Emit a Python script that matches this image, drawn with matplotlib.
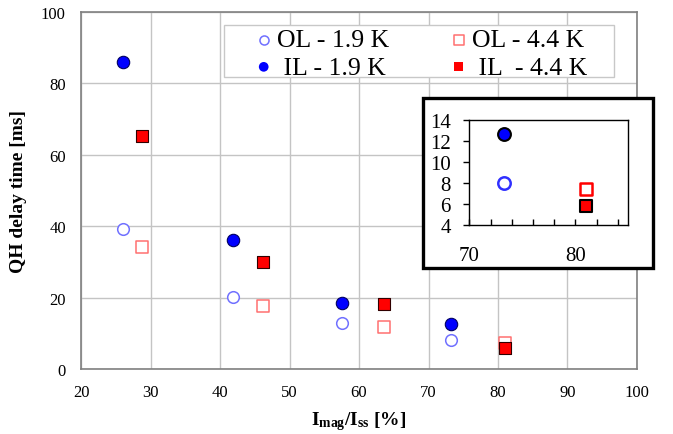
import matplotlib
matplotlib.use("Agg")
import matplotlib.pyplot as plt
from matplotlib.patches import Rectangle

plt.rcParams["font.family"] = ["Liberation Serif", "DejaVu Serif"]
plt.rcParams["mathtext.fontset"] = "custom"
plt.rcParams["mathtext.rm"] = "Liberation Serif"
plt.rcParams["mathtext.bf"] = "Liberation Serif:bold"

# current fraction I_mag/I_ss [%]
x_19 = [26.0, 41.8, 57.6, 73.3]
x_44 = [28.8, 46.2, 63.6, 81.0]

# QH delay time [ms]
ol_19 = [39.2, 20.1, 12.8, 8.0]
il_19 = [85.9, 36.0, 18.6, 12.7]
ol_44 = [34.3, 17.6, 11.7, 7.4]
il_44 = [65.2, 30.1, 18.1, 5.8]

x_ticks = [20, 30, 40, 50, 60, 70, 80, 90, 100]
y_ticks = [0, 20, 40, 60, 80, 100]
inset_yticks = [4, 6, 8, 10, 12, 14]
inset_xticks = [70, 80]
inset_minor = [72, 74, 76, 78, 82, 84]

W, H = 673, 435
fig = plt.figure(figsize=(W / 100, H / 100), dpi=100)
ax = fig.add_axes([0.1204, 0.1494, 0.8261, 0.8207])

ax.scatter(x_19, ol_19, s=70, facecolor="white", edgecolor="#7070ff", linewidth=1.1,
           marker="o", label="OL - 1.9 K", zorder=3)
ax.scatter(x_44, ol_44, s=70, facecolor="white", edgecolor="#ff7070", linewidth=1.1,
           marker="s", label="OL - 4.4 K", zorder=3)
ax.scatter(x_19, il_19, s=80, facecolor="#0000ff", edgecolor="#000060", linewidth=0.8,
           marker="o", label=" IL - 1.9 K", zorder=4)
ax.scatter(x_44, il_44, s=70, facecolor="#ff0000", edgecolor="#300000", linewidth=0.8,
           marker="s", label=" IL  - 4.4 K", zorder=4)

ax.set_xlim(20, 100)
ax.set_ylim(0, 100)
ax.set_xticks(x_ticks)
ax.set_yticks(y_ticks)
ax.grid(True, color="#c4c4c4", linewidth=1.0)
ax.set_axisbelow(True)
ax.tick_params(length=0, labelsize=12, pad=11)
for sp in ax.spines.values():
    sp.set_color("#808080")
    sp.set_linewidth(1.2)

ax.set_xlabel(r"$\mathbf{I_{mag}/I_{ss}}$ [%]", fontsize=14, fontweight="bold", labelpad=6)
ax.set_ylabel("QH delay time [ms]", fontsize=14, fontweight="bold", labelpad=10)

# legend frame drawn separately, entries placed without frame
fig.patches.append(Rectangle((224 / W, 1 - 78.3 / H), 390 / W, 52.6 / H,
                             transform=fig.transFigure, facecolor="white",
                             edgecolor="#c8c8c8", linewidth=1.0, zorder=2))
h, l = ax.get_legend_handles_labels()
order = [0, 2, 1, 3]
leg = fig.legend([h[i] for i in order], [l[i] for i in order], ncol=2,
                 bbox_to_anchor=(256 / W, 1 - 29.5 / H), loc="upper left",
                 fontsize=18.5, frameon=False, borderaxespad=0, borderpad=0,
                 handletextpad=0.22, labelspacing=0.16, columnspacing=2.4,
                 markerscale=0.78, handlelength=0.6)
leg.set_zorder(3)
for hh in leg.legend_handles:
    if hh.get_label().strip().startswith("IL"):
        hh.set_edgecolor("none")

# inset frame
fig.patches.append(Rectangle((0.628, 0.3816), 0.3418, 0.3908, transform=fig.transFigure,
                             facecolor="white", edgecolor="black", linewidth=2.4, zorder=5))

ins = fig.add_axes([0.6976, 0.4811, 0.236, 0.2407], zorder=6)
ins.scatter(x_19[-1:], ol_19[-1:], s=80, facecolor="white", edgecolor="#3030ff",
            linewidth=1.8, marker="o", zorder=3)
ins.scatter(x_19[-1:], il_19[-1:], s=85, facecolor="#0000ff", edgecolor="black",
            linewidth=1.5, marker="o", zorder=4)
ins.scatter(x_44[-1:], ol_44[-1:], s=85, facecolor="white", edgecolor="#ff0000",
            linewidth=1.8, marker="s", zorder=3)
ins.scatter(x_44[-1:], il_44[-1:], s=85, facecolor="#ff0000", edgecolor="black",
            linewidth=1.5, marker="s", zorder=4)
ins.set_xlim(70, 85)
ins.set_ylim(4, 14)
ins.set_yticks(inset_yticks)
ins.set_xticks(inset_xticks)
ins.set_xticks(inset_minor, minor=True)
ins.tick_params(axis="y", direction="out", length=4.5, width=1, labelsize=15, pad=9)
ins.tick_params(axis="x", which="both", direction="in", length=4, width=1, labelsize=15, pad=15)
for sp in ins.spines.values():
    sp.set_linewidth(1.0)

fig.savefig("out.png", dpi=100)
